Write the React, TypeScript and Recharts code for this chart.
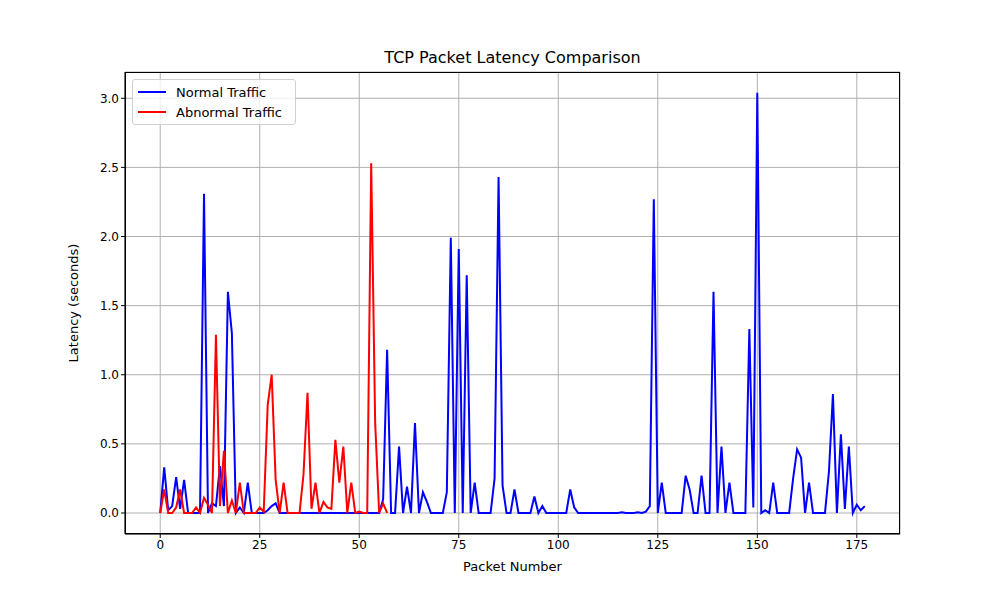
import React from "react";
import { LineChart, Line, XAxis, YAxis, CartesianGrid } from "recharts";

const normalValues: number[] = [
  0, 0.33, 0.02, 0.05, 0.26, 0.03, 0.24, 0, 0, 0,
  0, 2.31, 0, 0.07, 0.05, 0.34, 0.05, 1.6, 1.3, 0,
  0.04, 0, 0.22, 0, 0, 0, 0, 0.02, 0.05, 0.07,
  0, 0, 0, 0, 0, 0, 0, 0, 0, 0,
  0, 0, 0, 0, 0, 0, 0, 0, 0, 0,
  0, 0, 0, 0, 0, 0, 0.1, 1.18, 0, 0,
  0.48, 0, 0.19, 0, 0.65, 0, 0.15, 0.08, 0, 0,
  0, 0, 0.15, 1.99, 0, 1.91, 0, 1.72, 0, 0.22,
  0, 0, 0, 0, 0.25, 2.43, 0.2, 0, 0, 0.17,
  0, 0, 0, 0, 0.12, 0, 0.05, 0, 0, 0,
  0, 0, 0, 0.17, 0.04, 0, 0, 0, 0, 0,
  0, 0, 0, 0, 0, 0, 0.005, 0, 0, 0,
  0.005, 0, 0.01, 0.05, 2.27, 0, 0.22, 0, 0, 0,
  0, 0, 0.27, 0.17, 0, 0, 0.27, 0, 0, 1.6,
  0, 0.48, 0, 0.22, 0, 0, 0, 0, 1.33, 0.04,
  3.04, 0, 0.02, 0, 0.22, 0, 0, 0, 0, 0.25,
  0.46, 0.4, 0, 0.22, 0, 0, 0, 0, 0.3, 0.86,
  0, 0.57, 0.03, 0.48, 0, 0.06, 0.02, 0.05,
];

const abnormalValues: number[] = [
  0, 0.17, 0, 0, 0.04, 0.17, 0, 0, 0, 0.04,
  0, 0.11, 0.06, 0, 1.29, 0.05, 0.45, 0, 0.09, 0,
  0.22, 0, 0, 0, 0, 0.04, 0.01, 0.78, 1.0, 0.24,
  0, 0.22, 0, 0, 0, 0, 0.28, 0.87, 0.03, 0.22,
  0, 0.08, 0.04, 0.03, 0.53, 0.22, 0.48, 0, 0.22, 0,
  0.01, 0, 0, 2.53, 0.65, 0, 0.07, 0,
];

const xTicks = [0, 25, 50, 75, 100, 125, 150, 175];
const yTicks = [0, 0.5, 1, 1.5, 2, 2.5, 3];

const data = normalValues.map((v, i) => ({
  packet: i,
  normal: v,
  abnormal: i < abnormalValues.length ? abnormalValues[i] : null,
}));

const font = "DejaVu Sans, sans-serif";

export default function App() {
  return (
    <div style={{ position: "absolute", left: 0, top: 0, width: 1000, height: 600, background: "#fff", fontFamily: font }}>
      <div style={{ position: "absolute", top: 48, left: 125, width: 775, textAlign: "center", fontSize: 16, color: "#000" }}>
        TCP Packet Latency Comparison
      </div>
      <LineChart width={1000} height={600} data={data} margin={{ top: 72, right: 100, bottom: 0, left: 65 }}>
        <CartesianGrid stroke="#b0b0b0" strokeWidth={1} />
        <XAxis
          dataKey="packet"
          type="number"
          domain={[-8.85, 185.85]}
          ticks={xTicks}
          allowDataOverflow
          stroke="#000"
          tick={{ fill: "#000", fontSize: 12, fontFamily: font }}
          tickSize={4}
          height={66}
          label={{ value: "Packet Number", position: "insideTop", offset: 28, fill: "#000", fontSize: 13, fontFamily: font }}
        />
        <YAxis
          type="number"
          domain={[-0.152, 3.19]}
          ticks={yTicks}
          allowDataOverflow
          tickFormatter={(v: number) => v.toFixed(1)}
          stroke="#000"
          tick={{ fill: "#000", fontSize: 12, fontFamily: font }}
          tickSize={4}
          width={60}
          label={{ value: "Latency (seconds)", angle: -90, position: "insideLeft", offset: 8, fill: "#000", fontSize: 13, fontFamily: font, style: { textAnchor: "middle" } }}
        />
        <Line dataKey="normal" stroke="#0000ff" strokeWidth={2} dot={false} isAnimationActive={false} />
        <Line dataKey="abnormal" stroke="#ff0000" strokeWidth={2} dot={false} isAnimationActive={false} />
      </LineChart>
      <div style={{ position: "absolute", left: 125, top: 72, width: 775, height: 462, boxSizing: "border-box", border: "1px solid #000", pointerEvents: "none" }} />
      <div style={{ position: "absolute", left: 132, top: 79, width: 162, height: 44, border: "1px solid #d0d0d0", borderRadius: 3, background: "rgba(255,255,255,0.8)", fontSize: 13 }}>
        <div style={{ display: "flex", alignItems: "center", height: 20, marginTop: 2 }}>
          <div style={{ width: 28, height: 2, background: "#0000ff", marginLeft: 5, marginRight: 10 }} />
          <span>Normal Traffic</span>
        </div>
        <div style={{ display: "flex", alignItems: "center", height: 20 }}>
          <div style={{ width: 28, height: 2, background: "#ff0000", marginLeft: 5, marginRight: 10 }} />
          <span>Abnormal Traffic</span>
        </div>
      </div>
    </div>
  );
}
